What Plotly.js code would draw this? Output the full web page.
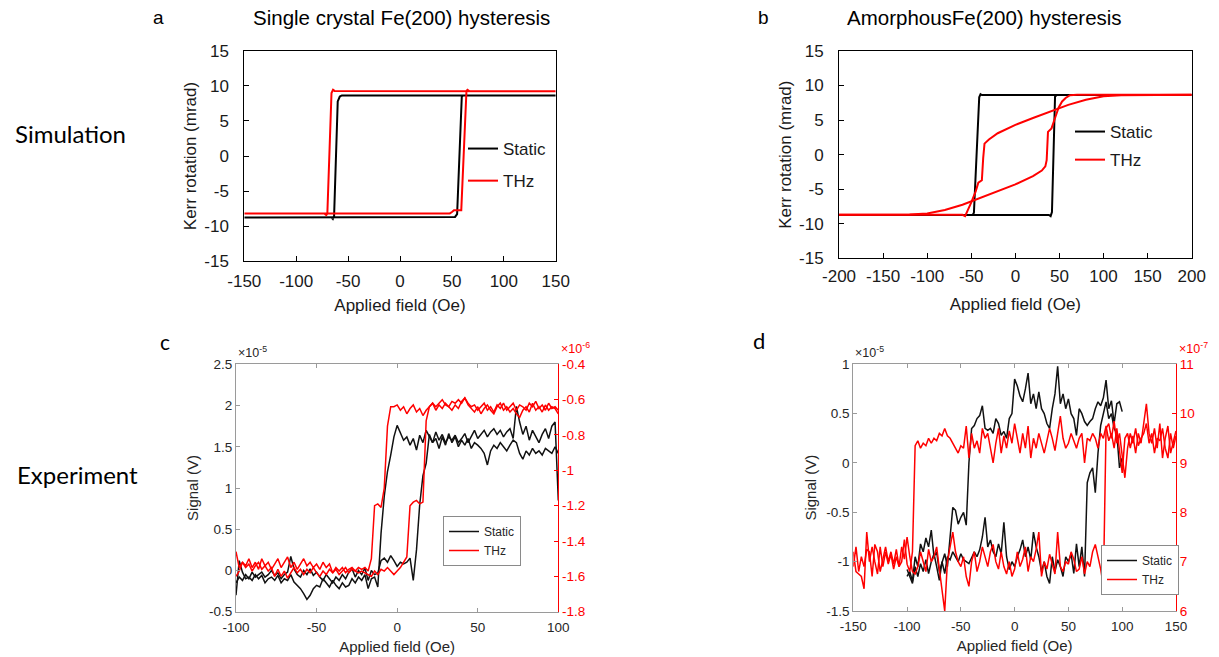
<!DOCTYPE html>
<html><head><meta charset="utf-8">
<script src="https://cdn.plot.ly/plotly-3.0.1.min.js"></script>
<style>html,body{margin:0;padding:0;background:#fff;}#chart{width:1219px;height:657px;}</style>
</head><body><div id="chart"></div>
<script>
// ---------- Panel a : single crystal simulation ----------
const aStaticX = [-150, 50, 53, 55, 59.5, 61, 150, -56, -58, -60, -63.5, -64.7, -66, -150];
const aStaticY = [-8.8, -8.8, -8.7, -8.3, 8.5, 8.65, 8.65, 8.65, 8.5, 7.8, -8.6, -9.0, -8.8, -8.8];
const aThzX = [-150, 48, 50, 52, 59, 64, 65, 67, 150, -63, -64.5, -66, -70, -71, -73, -150];
const aThzY = [-8.2, -8.2, -8.0, -7.75, -7.75, 9.3, 9.45, 9.25, 9.25, 9.3, 9.45, 9.0, -8.25, -8.45, -8.2, -8.2];

// ---------- Panel b : amorphous simulation ----------
const bStaticX = [-200, 38, 40, 41.5, 45, 47, 200, -38, -39.5, -41, -47, -48.5, -200];
const bStaticY = [-8.73, -8.73, -8.9, -8.3, 8.4, 8.63, 8.63, 8.63, 8.75, 8.3, -8.4, -8.73, -8.73];
const bThzUpX = [-200, -120, -100, -80, -60, -40, -20, 0, 20, 30, 34, 35.5, 37, 41, 45, 49, 53, 57, 62, 70, 200];
const bThzUpY = [-8.7, -8.65, -8.5, -8.0, -7.25, -6.3, -5.25, -4.3, -3.1, -2.3, -1.7, -0.8, 3.3, 3.8, 5.3, 6.8, 7.7, 8.2, 8.6, 8.65, 8.65];
const bThzDownX = [200, 120, 100, 80, 60, 40, 20, 0, -20, -30, -35, -36.5, -38, -42, -45, -50, -55, -57, -60, -100, -200];
const bThzDownY = [8.65, 8.6, 8.45, 7.95, 7.2, 6.3, 5.3, 4.3, 3.1, 2.2, 1.6, -0.5, -3.7, -4.05, -5.3, -6.9, -8.5, -8.9, -8.7, -8.7, -8.7];

// ---------- Panel c : single crystal experiment (x from -100 to 100, step 2) ----------
const cStaticA = [
 -0.30, 0.12, -0.02, -0.10, -0.08, -0.12, -0.05, -0.10, -0.06, -0.15,
 -0.10, -0.08, -0.12, -0.06, -0.15, -0.10, -0.12, -0.05, -0.14, -0.18,
 -0.22, -0.28, -0.35, -0.30, -0.22, -0.18, -0.20, -0.10, -0.15, -0.20,
 -0.12, -0.18, -0.22, -0.15, -0.20, -0.18, -0.10, -0.15, -0.08, -0.12,
 -0.05, -0.22, -0.10, -0.08, -0.20, 0.45, 0.90, 1.20, 1.40, 1.62,
 1.76, 1.68, 1.58, 1.62, 1.52, 1.60, 1.46, 1.64, 1.55, 1.70,
 1.62, 1.55, 1.68, 1.58, 1.65, 1.55, 1.62, 1.58, 1.64, 1.55,
 1.60, 1.66, 1.55, 1.63, 1.70, 1.60, 1.65, 1.70, 1.62, 1.68,
 1.72, 1.65, 1.70, 1.62, 1.68, 1.72, 1.60, 1.99, 1.80, 1.65,
 1.75, 1.58, 1.70, 1.62, 1.55, 1.65, 1.72, 1.60, 1.75, 1.80,
 0.85];
const cStaticB = [
 -0.15, -0.08, -0.12, -0.05, -0.10, -0.02, -0.08, -0.05, -0.02, -0.08,
 -0.05, 0.00, -0.06, -0.03, -0.10, -0.05, -0.02, 0.17, 0.02, -0.05,
 -0.08, 0.00, -0.05, 0.02, -0.06, -0.02, -0.08, -0.12, -0.05, -0.10,
 -0.15, -0.08, -0.12, -0.05, -0.10, -0.02, 0.02, -0.08, 0.00, -0.05,
 0.03, -0.12, 0.00, -0.05, -0.03, 0.12, 0.15, 0.10, 0.18, 0.12,
 0.05, 0.10, 0.08, 0.10, 0.15, -0.12, 0.25, 0.80, 1.15, 1.30,
 1.65, 1.55, 1.60, 1.48, 1.62, 1.52, 1.66, 1.55, 1.62, 1.50,
 1.58, 1.52, 1.60, 1.48, 1.55, 1.52, 1.48, 1.42, 1.28, 1.45,
 1.52, 1.48, 1.55, 1.50, 1.45, 1.52, 1.58, 1.55, 1.42, 1.35,
 1.45, 1.40, 1.48, 1.42, 1.45, 1.40, 1.48, 1.45, 1.42, 1.50,
 1.42];
const cThzA = [
 -1.46, -1.55, -1.52, -1.54, -1.50, -1.55, -1.52, -1.56, -1.50, -1.54,
 -1.52, -1.56, -1.53, -1.50, -1.55, -1.52, -1.49, -1.55, -1.52, -1.56,
 -1.53, -1.50, -1.54, -1.52, -1.55, -1.53, -1.56, -1.52, -1.55, -1.53,
 -1.58, -1.55, -1.57, -1.55, -1.58, -1.56, -1.55, -1.57, -1.55, -1.56,
 -1.55, -1.57, -1.50, -1.20, -1.19, -1.21, -1.10, -0.75, -0.64, -0.64,
 -0.63, -0.66, -0.64, -0.68, -0.65, -0.63, -0.67, -0.65, -0.69, -0.66,
 -0.64, -0.62, -0.66, -0.63, -0.65, -0.62, -0.64, -0.66, -0.63, -0.65,
 -0.61, -0.59, -0.63, -0.65, -0.67, -0.64, -0.68, -0.65, -0.63, -0.66,
 -0.68, -0.64, -0.62, -0.66, -0.64, -0.67, -0.65, -0.68, -0.70, -0.66,
 -0.64, -0.67, -0.62, -0.66, -0.64, -0.67, -0.63, -0.66, -0.64, -0.65,
 -0.68];
const cThzB = [
 -1.60, -1.57, -1.52, -1.55, -1.53, -1.57, -1.54, -1.52, -1.56, -1.54,
 -1.57, -1.55, -1.60, -1.56, -1.60, -1.57, -1.61, -1.58, -1.55, -1.58,
 -1.56, -1.59, -1.56, -1.58, -1.55, -1.58, -1.60, -1.57, -1.59, -1.56,
 -1.58, -1.56, -1.59, -1.57, -1.55, -1.58, -1.56, -1.57, -1.58, -1.57,
 -1.58, -1.59, -1.60, -1.57, -1.59, -1.56, -1.57, -1.55, -1.57, -1.59,
 -1.57, -1.55, -1.52, -1.49, -1.20, -1.18, -1.17, -1.19, -1.18, -0.72,
 -0.64, -0.62, -0.64, -0.62, -0.60, -0.63, -0.64, -0.61, -0.62, -0.60,
 -0.62, -0.59, -0.62, -0.64, -0.63, -0.66, -0.64, -0.62, -0.66, -0.64,
 -0.67, -0.63, -0.65, -0.62, -0.66, -0.64, -0.62, -0.66, -0.63, -0.64,
 -0.66, -0.62, -0.64, -0.61, -0.65, -0.63, -0.66, -0.62, -0.65, -0.64,
 -0.66];

// ---------- Panel d : amorphous experiment ----------
// static: x from -100 to 100, step 2.5
const dStaticA = [
 -1.15, -1.10, -1.20, -0.95, -1.05, -0.82, -0.90, -0.76,
 -0.85, -0.68, -0.95, -0.90, -1.10, -1.00, -0.92, -1.05,
 -0.75, -0.45, -0.48, -0.62, -0.55, -0.50, -0.63, 0.00,
 0.35, 0.38, 0.45, 0.48, 0.58, 0.35, 0.33, 0.35,
 0.30, 0.45, 0.40, 0.28, 0.32, 0.25, 0.45, 0.50,
 0.85, 0.78, 0.68, 0.62, 0.75, 0.91, 0.60, 0.70,
 0.55, 0.72, 0.55, 0.50, 0.40, 0.35, 0.55, 0.70,
 0.98, 0.60, 0.70, 0.55, 0.65, 0.50, 0.45, 0.28,
 0.55, 0.50, 0.42, 0.38, 0.42, 0.45, 0.55, 0.62,
 0.58, 0.66, 0.84, 0.55, 0.63, 0.40, 0.60, 0.62,
 0.52];
const dStaticB = [
 -1.08, -1.15, -1.22, -1.05, -1.15, -1.02, -1.10, -0.98,
 -1.12, -1.00, -0.92, -1.05, -1.19, -1.00, -1.12, -0.95,
 -0.98, -0.90, -0.95, -1.00, -0.92, -0.98, -1.00, -1.02,
 -0.96, -0.90, -0.95, -0.88, -0.75, -0.55, -0.85, -0.78,
 -0.90, -0.95, -0.82, -0.92, -0.60, -0.95, -1.08, -1.00,
 -1.05, -0.95, -0.88, -0.78, -0.95, -0.85, -0.98, -0.70,
 -0.85, -0.95, -1.10, -1.00, -1.15, -1.22, -0.95, -1.10,
 -0.98, -1.05, -1.15, -0.95, -1.00, -0.92, -1.12, -0.82,
 -1.05, -0.85, -1.15, -0.20, -0.10, -0.05, -0.30, 0.10,
 0.38, 0.50, 0.62, 0.45, 0.50, 0.35, 0.30, -0.05,
 0.05];
// THz: x from -150 to 150, step 2.5
const dThzA = [
 7.20, 6.80, 6.75, 6.70, 6.45, 7.60, 7.00, 7.30,
 7.00, 6.75, 7.30, 6.90, 7.20, 6.95, 7.15, 6.85,
 7.10, 6.90, 7.00, 7.45, 6.95, 6.80, 7.20, 9.35,
 9.45, 9.30, 9.40, 9.35, 9.50, 9.40, 9.50, 9.45,
 9.60, 9.55, 9.70, 9.55, 9.50, 9.40, 9.30, 9.20,
 9.35, 9.30, 9.75, 9.10, 9.60, 9.30, 9.45, 9.20,
 9.70, 9.50, 9.60, 9.30, 9.00, 9.40, 9.70, 9.20,
 9.55, 9.30, 9.65, 9.40, 9.80, 9.50, 9.20, 9.60,
 9.30, 9.75, 9.10, 9.50, 9.30, 9.60, 9.40, 9.20,
 9.45, 9.70, 9.50, 9.25, 9.60, 9.95, 9.50, 9.30,
 9.40, 9.60, 9.45, 9.30, 9.50, 9.60, 9.00, 9.50,
 9.45, 9.60, 9.50, 9.30, 9.60, 9.50, 9.75, 9.45,
 9.60, 9.30, 9.70, 9.20, 8.80, 9.50, 9.60, 9.30,
 9.55, 9.20, 9.60, 9.40, 9.80, 10.20, 9.60, 9.40,
 9.70, 9.30, 9.80, 9.10, 9.50, 9.75, 9.20, 9.40,
 9.65];
const dThzB = [
 6.90, 7.30, 6.80, 7.10, 6.90, 7.25, 7.20, 6.70,
 7.35, 7.20, 6.80, 7.05, 7.30, 7.00, 7.20, 6.95,
 7.25, 6.90, 7.30, 7.05, 7.50, 7.10, 6.80, 6.75,
 6.90, 7.20, 7.00, 6.80, 7.25, 7.00, 7.10, 7.30,
 6.85, 6.40, 6.00, 7.00, 7.30, 7.60, 7.20, 7.00,
 6.90, 7.10, 6.70, 6.50, 7.00, 7.20, 6.80, 7.00,
 7.30, 7.10, 6.90, 7.20, 7.35, 7.00, 6.85, 7.20,
 6.90, 6.75, 7.00, 6.70, 6.85, 7.20, 6.90, 7.05,
 7.30, 6.80, 7.10, 7.00, 7.25, 7.60, 6.70, 7.00,
 6.85, 7.15, 6.95, 6.75, 7.60, 6.90, 6.80, 7.00,
 6.95, 7.20, 7.05, 6.80, 6.85, 7.10, 6.75, 7.00,
 6.90, 7.20, 7.35, 7.10, 6.85, 6.50, 9.70, 9.80,
 9.50, 9.85, 9.40, 9.60, 9.20, 8.70, 9.30, 9.60,
 9.40, 9.70, 9.35, 9.50, 9.60, 9.80, 9.40, 9.60,
 9.20, 9.50, 9.45, 9.70, 9.30, 9.10, 9.60, 9.30,
 9.55];

// ---------- tick values / labels ----------
const aTickVals = [-150, -100, -50, 0, 50, 100, 150];
const aTickText = ['-150', '-100', '-50', '0', '50', '100', '150'];
const bTickVals = [-200, -150, -100, -50, 0, 50, 100, 150, 200];
const bTickText = ['-200', '-150', '-100', '-50', '0', '50', '100', '150', '200'];
const kerrTickVals = [-15, -10, -5, 0, 5, 10, 15];
const kerrTickText = ['-15', '-10', '-5', '0', '5', '10', '15'];
const cTickXVals = [-100, -50, 0, 50, 100];
const cTickXText = ['-100', '-50', '0', '50', '100'];
const cTickYVals = [-0.5, 0, 0.5, 1, 1.5, 2, 2.5];
const cTickYText = ['-0.5', '0', '0.5', '1', '1.5', '2', '2.5'];
const cTickY2Vals = [-1.8, -1.6, -1.4, -1.2, -1, -0.8, -0.6, -0.4];
const cTickY2Text = ['-1.8', '-1.6', '-1.4', '-1.2', '-1', '-0.8', '-0.6', '-0.4'];
const dTickXVals = [-150, -100, -50, 0, 50, 100, 150];
const dTickXText = ['-150', '-100', '-50', '0', '50', '100', '150'];
const dTickYVals = [-1.5, -1, -0.5, 0, 0.5, 1];
const dTickYText = ['-1.5', '-1', '-0.5', '0', '0.5', '1'];
const dTickY2Vals = [6, 7, 8, 9, 10, 11];
const dTickY2Text = ['6', '7', '8', '9', '10', '11'];

const FONT = 'Liberation Sans, Arial, sans-serif';
const BLK = '#000000', RED = '#ff0000';

const traces = [
  {x: aStaticX, y: aStaticY, xaxis: 'x', yaxis: 'y', mode: 'lines', name: 'Static', line: {color: BLK, width: 2}, legend: 'legend', legendgroup: 'a1'},
  {x: aThzX, y: aThzY, xaxis: 'x', yaxis: 'y', mode: 'lines', name: 'THz', line: {color: RED, width: 2}, legend: 'legend', legendgroup: 'a2'},
  {x: bStaticX, y: bStaticY, xaxis: 'x2', yaxis: 'y2', mode: 'lines', name: 'Static', line: {color: BLK, width: 2}, legend: 'legend2', legendgroup: 'b1'},
  {x: bThzUpX, y: bThzUpY, xaxis: 'x2', yaxis: 'y2', mode: 'lines', name: 'THz', line: {color: RED, width: 2}, legend: 'legend2', legendgroup: 'b2'},
  {x: bThzDownX, y: bThzDownY, xaxis: 'x2', yaxis: 'y2', mode: 'lines', name: 'THz', line: {color: RED, width: 2}, legend: 'legend2', legendgroup: 'b2', showlegend: false},
  {y: cStaticA, x0: -100, dx: 2, xaxis: 'x3', yaxis: 'y3', mode: 'lines', name: 'Static', line: {color: '#111', width: 1.5}, legend: 'legend3'},
  {y: cStaticB, x0: -100, dx: 2, xaxis: 'x3', yaxis: 'y3', mode: 'lines', name: 'Static', line: {color: '#111', width: 1.5}, legend: 'legend3', showlegend: false},
  {y: cThzA, x0: -100, dx: 2, xaxis: 'x3', yaxis: 'y4', mode: 'lines', name: 'THz', line: {color: RED, width: 1.5}, legend: 'legend3'},
  {y: cThzB, x0: -100, dx: 2, xaxis: 'x3', yaxis: 'y4', mode: 'lines', name: 'THz', line: {color: RED, width: 1.5}, legend: 'legend3', showlegend: false},
  {y: dStaticA, x0: -100, dx: 2.5, xaxis: 'x4', yaxis: 'y5', mode: 'lines', name: 'Static', line: {color: '#111', width: 1.5}, legend: 'legend4'},
  {y: dStaticB, x0: -100, dx: 2.5, xaxis: 'x4', yaxis: 'y5', mode: 'lines', name: 'Static', line: {color: '#111', width: 1.5}, legend: 'legend4', showlegend: false},
  {y: dThzA, x0: -150, dx: 2.5, xaxis: 'x4', yaxis: 'y6', mode: 'lines', name: 'THz', line: {color: RED, width: 1.5}, legend: 'legend4'},
  {y: dThzB, x0: -150, dx: 2.5, xaxis: 'x4', yaxis: 'y6', mode: 'lines', name: 'THz', line: {color: RED, width: 1.5}, legend: 'legend4', showlegend: false}
];

function simAxis(extra) {
  return Object.assign({
    showline: true, linecolor: '#000', linewidth: 1, mirror: true,
    ticks: 'inside', ticklen: 5, tickcolor: '#000', tickwidth: 1,
    showgrid: false, zeroline: false, tickmode: 'array',
    tickfont: {family: FONT, size: 17, color: '#1a1a1a'}
  }, extra);
}
function expAxis(extra) {
  return Object.assign({
    showline: true, linecolor: '#9a9a9a', linewidth: 1,
    ticks: 'inside', ticklen: 4, tickcolor: '#9a9a9a', tickwidth: 1,
    showgrid: false, zeroline: false, tickmode: 'array',
    tickfont: {family: FONT, size: 13.5, color: '#262626'}
  }, extra);
}

const layout = {
  width: 1219, height: 657, autosize: false,
  margin: {l: 0, r: 0, t: 0, b: 0},
  paper_bgcolor: '#fff', plot_bgcolor: 'rgba(0,0,0,0)',
  font: {family: FONT, color: '#1a1a1a'},
  xaxis: simAxis({domain: [0.2004, 0.4559], anchor: 'y', range: [-150, 150], tickvals: aTickVals, ticktext: aTickText, ticklabelstandoff: 5,
    title: {text: 'Applied field (Oe)', font: {family: FONT, size: 17, color: '#1a1a1a'}, standoff: 8}}),
  yaxis: simAxis({domain: [0.6027, 0.9224], anchor: 'x', range: [-15, 15], tickvals: kerrTickVals, ticktext: kerrTickText, ticklabelstandoff: 11,
    title: {text: 'Kerr rotation (mrad)', font: {family: FONT, size: 17, color: '#1a1a1a'}, standoff: 3}}),
  xaxis2: simAxis({domain: [0.6883, 0.9776], anchor: 'y2', range: [-200, 200], tickvals: bTickVals, ticktext: bTickText, ticklabelstandoff: 2,
    title: {text: 'Applied field (Oe)', font: {family: FONT, size: 17, color: '#1a1a1a'}, standoff: 13}}),
  yaxis2: simAxis({domain: [0.6068, 0.9224], anchor: 'x2', range: [-15, 15], tickvals: kerrTickVals, ticktext: kerrTickText, ticklabelstandoff: 11,
    title: {text: 'Kerr rotation (mrad)', font: {family: FONT, size: 17, color: '#1a1a1a'}, standoff: 3}}),
  xaxis3: expAxis({domain: [0.1936, 0.458], anchor: 'y3', range: [-100, 100], mirror: 'ticks', tickvals: cTickXVals, ticktext: cTickXText, ticklabelstandoff: 3,
    title: {text: 'Applied field (Oe)', font: {family: FONT, size: 15, color: '#262626'}, standoff: 7}}),
  yaxis3: expAxis({domain: [0.0689, 0.4455], anchor: 'x3', range: [-0.5, 2.5], tickvals: cTickYVals, ticktext: cTickYText,
    title: {text: 'Signal (V)', font: {family: FONT, size: 15, color: '#262626'}, standoff: 6}}),
  yaxis4: expAxis({overlaying: 'y3', side: 'right', anchor: 'x3', range: [-1.8, -0.4], tickvals: cTickY2Vals, ticktext: cTickY2Text,
    linecolor: RED, tickcolor: RED, tickfont: {family: FONT, size: 13.5, color: RED}}),
  xaxis4: expAxis({domain: [0.7, 0.9647], anchor: 'y5', range: [-150, 150], mirror: 'ticks', tickvals: dTickXVals, ticktext: dTickXText, ticklabelstandoff: 3,
    title: {text: 'Applied field (Oe)', font: {family: FONT, size: 15, color: '#262626'}, standoff: 7}}),
  yaxis5: expAxis({domain: [0.07, 0.4455], anchor: 'x4', range: [-1.5, 1], tickvals: dTickYVals, ticktext: dTickYText,
    title: {text: 'Signal (V)', font: {family: FONT, size: 15, color: '#262626'}, standoff: 6}}),
  yaxis6: expAxis({overlaying: 'y5', side: 'right', anchor: 'x4', range: [6, 11], tickvals: dTickY2Vals, ticktext: dTickY2Text,
    linecolor: RED, tickcolor: RED, tickfont: {family: FONT, size: 13.5, color: RED}}),
  legend: {x: 463 / 1219, y: 1 - 131 / 657, xanchor: 'left', yanchor: 'top', bgcolor: 'rgba(0,0,0,0)', borderwidth: 0,
    font: {family: FONT, size: 17, color: '#1a1a1a'}, tracegroupgap: 7},
  legend2: {x: 1070 / 1219, y: 1 - 114 / 657, xanchor: 'left', yanchor: 'top', bgcolor: 'rgba(0,0,0,0)', borderwidth: 0,
    font: {family: FONT, size: 17, color: '#1a1a1a'}, tracegroupgap: 3},
  legend3: {x: 443 / 1219, y: 1 - 516 / 657, xanchor: 'left', yanchor: 'top', bgcolor: '#fff', bordercolor: '#8a8a8a', borderwidth: 1,
    font: {family: FONT, size: 12, color: '#262626'}},
  legend4: {x: 1101 / 1219, y: 1 - 545 / 657, xanchor: 'left', yanchor: 'top', bgcolor: '#fff', bordercolor: '#8a8a8a', borderwidth: 1,
    font: {family: FONT, size: 12, color: '#262626'}},
  annotations: [
    {text: 'a', x: 158 / 1219, y: 1 - 17 / 657, xref: 'paper', yref: 'paper', showarrow: false, xanchor: 'center', yanchor: 'middle', font: {family: FONT, size: 19, color: '#000'}},
    {text: 'b', x: 763 / 1219, y: 1 - 17 / 657, xref: 'paper', yref: 'paper', showarrow: false, xanchor: 'center', yanchor: 'middle', font: {family: FONT, size: 19, color: '#000'}},
    {text: 'c', x: 165 / 1219, y: 1 - 341 / 657, xref: 'paper', yref: 'paper', showarrow: false, xanchor: 'center', yanchor: 'middle', font: {family: 'Lato, sans-serif', size: 21, color: '#000'}},
    {text: 'd', x: 759 / 1219, y: 1 - 340 / 657, xref: 'paper', yref: 'paper', showarrow: false, xanchor: 'center', yanchor: 'middle', font: {family: 'Lato, sans-serif', size: 22, color: '#000'}},
    {text: 'Single crystal Fe(200) hysteresis', x: 401 / 1219, y: 1 - 17 / 657, xref: 'paper', yref: 'paper', showarrow: false, xanchor: 'center', yanchor: 'middle', font: {family: FONT, size: 20.5, color: '#000'}},
    {text: 'AmorphousFe(200) hysteresis', x: 984 / 1219, y: 1 - 17 / 657, xref: 'paper', yref: 'paper', showarrow: false, xanchor: 'center', yanchor: 'middle', font: {family: FONT, size: 20.5, color: '#000'}},
    {text: 'Simulation', x: 70 / 1219, y: 1 - 133 / 657, xref: 'paper', yref: 'paper', showarrow: false, xanchor: 'center', yanchor: 'middle', font: {family: 'Lato, sans-serif', size: 24, color: '#000'}},
    {text: 'Experiment', x: 77 / 1219, y: 1 - 474 / 657, xref: 'paper', yref: 'paper', showarrow: false, xanchor: 'center', yanchor: 'middle', font: {family: 'Lato, sans-serif', size: 24, color: '#000'}},
    {text: '×10<sup>-5</sup>', x: 236 / 1219, y: 1 - 362 / 657, xref: 'paper', yref: 'paper', showarrow: false, xanchor: 'left', yanchor: 'bottom', font: {family: FONT, size: 12.5, color: '#262626'}},
    {text: '×10<sup>-6</sup>', x: 559 / 1219, y: 1 - 358 / 657, xref: 'paper', yref: 'paper', showarrow: false, xanchor: 'left', yanchor: 'bottom', font: {family: FONT, size: 12.5, color: RED}},
    {text: '×10<sup>-5</sup>', x: 853 / 1219, y: 1 - 362 / 657, xref: 'paper', yref: 'paper', showarrow: false, xanchor: 'left', yanchor: 'bottom', font: {family: FONT, size: 12.5, color: '#262626'}},
    {text: '×10<sup>-7</sup>', x: 1177 / 1219, y: 1 - 358 / 657, xref: 'paper', yref: 'paper', showarrow: false, xanchor: 'left', yanchor: 'bottom', font: {family: FONT, size: 12.5, color: RED}}
  ]
};

Plotly.newPlot('chart', traces, layout, {staticPlot: true, displayModeBar: false});
</script></body></html>
